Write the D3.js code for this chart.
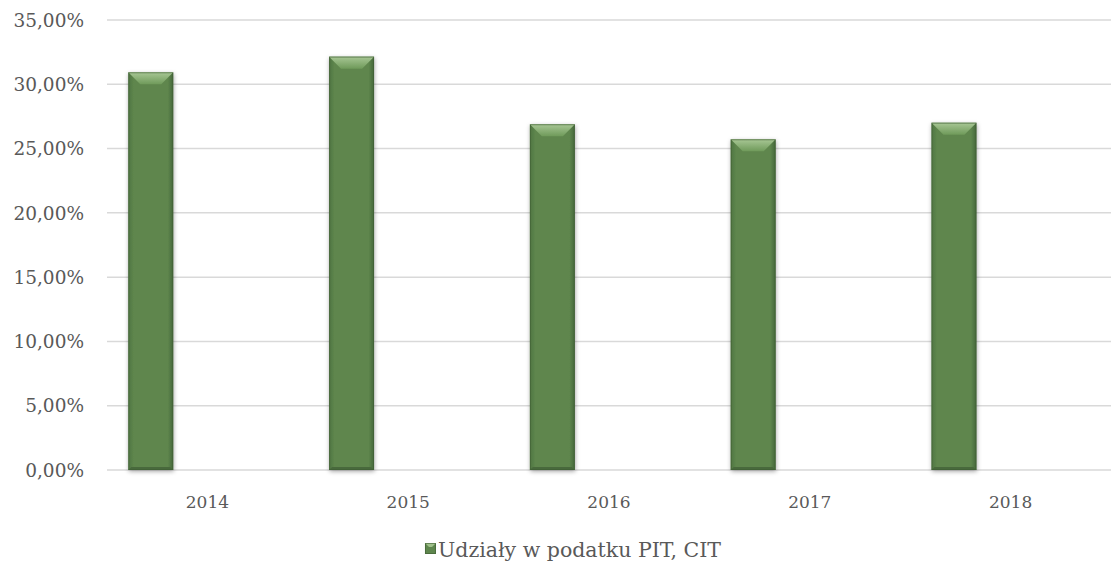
<!DOCTYPE html>
<html>
<head>
<meta charset="utf-8">
<script src="https://cdn.jsdelivr.net/npm/d3@7"></script>
<style>
  body { margin: 0; background: #fff; }
  text { font-family: "DejaVu Serif", "Liberation Serif", serif; fill: #595959; }
</style>
</head>
<body>
<svg width="1111" height="572"></svg>
<script>
var years = ["2014", "2015", "2016", "2017", "2018"];
var shares = [30.93, 32.15, 26.89, 25.72, 27.01];
var yTicks = [0, 5, 10, 15, 20, 25, 30, 35];
var seriesName = "Udziały w podatku PIT, CIT";

var svg = d3.select("svg"),
    width = +svg.attr("width"),
    height = +svg.attr("height");

var margin = {left: 107, right: 0, top: 20, bottom: 102};

var x = d3.scaleBand()
  .domain(years)
  .range([margin.left, width - margin.right]);

var y = d3.scaleLinear()
  .domain([0, 35])
  .range([height - margin.bottom, margin.top]);

// bar sits in the left part of each category slot
var barOffset = x.bandwidth() * 0.106,
    barWidth = x.bandwidth() * 0.224;

var defs = svg.append("defs");

var shadow = defs.append("filter").attr("id", "shadow")
  .attr("x", "-30%").attr("y", "-10%").attr("width", "160%").attr("height", "125%");
shadow.append("feDropShadow")
  .attr("dx", 0.5).attr("dy", 1.5).attr("stdDeviation", 2.2)
  .attr("flood-color", "#000").attr("flood-opacity", 0.35);

var topGrad = defs.append("linearGradient").attr("id", "topGrad")
  .attr("x1", 0).attr("y1", 0).attr("x2", 0).attr("y2", 1);
topGrad.append("stop").attr("offset", "0%").attr("stop-color", "#a8c795");
topGrad.append("stop").attr("offset", "100%").attr("stop-color", "#6f9a5a");

var bodyGrad = defs.append("linearGradient").attr("id", "bodyGrad")
  .attr("x1", 0).attr("y1", 0).attr("x2", 1).attr("y2", 0);
bodyGrad.append("stop").attr("offset", "0%").attr("stop-color", "#4f7541");
bodyGrad.append("stop").attr("offset", "12%").attr("stop-color", "#5e864d");
bodyGrad.append("stop").attr("offset", "88%").attr("stop-color", "#5e864d");
bodyGrad.append("stop").attr("offset", "100%").attr("stop-color", "#44663a");

// gridlines
svg.append("g")
  .selectAll("line")
  .data(yTicks)
  .enter().append("line")
  .attr("x1", margin.left)
  .attr("x2", width - margin.right)
  .attr("y1", function(d) { return y(d); })
  .attr("y2", function(d) { return y(d); })
  .attr("stroke", "#d9d9d9")
  .attr("stroke-width", 1.5);

// y labels
svg.append("g")
  .selectAll("text")
  .data(yTicks)
  .enter().append("text")
  .attr("x", 84)
  .attr("y", function(d) { return y(d); })
  .attr("dy", "0.36em")
  .attr("text-anchor", "end")
  .style("font-size", "18.5px")
  .text(function(d) { return d.toFixed(2).replace(".", ",") + "%"; });

// x labels
svg.append("g")
  .selectAll("text")
  .data(years)
  .enter().append("text")
  .attr("x", function(d) { return x(d) + x.bandwidth() / 2; })
  .attr("y", 508)
  .attr("text-anchor", "middle")
  .style("font-size", "17px")
  .text(function(d) { return d; });

function drawBevelBar(g, bx, by, bw, bh) {
  var bev = Math.min(12, bh / 2);
  g.append("rect")
    .attr("x", bx).attr("y", by).attr("width", bw).attr("height", bh)
    .attr("fill", "url(#bodyGrad)")
    .attr("filter", "url(#shadow)");
  // lighter top bevel
  g.append("path")
    .attr("d", "M" + bx + "," + by + "H" + (bx + bw) + "L" + (bx + bw - bev) + "," + (by + bev) +
      "H" + (bx + bev) + "Z")
    .attr("fill", "url(#topGrad)");
  // darker bottom edge
  g.append("path")
    .attr("d", "M" + bx + "," + (by + bh) + "H" + (bx + bw) + "L" + (bx + bw - 3) + "," + (by + bh - 3) +
      "H" + (bx + 3) + "Z")
    .attr("fill", "#48693c");
  g.append("rect")
    .attr("x", bx + 0.5).attr("y", by + 0.5).attr("width", bw - 1).attr("height", bh - 1)
    .attr("fill", "none")
    .attr("stroke", "#3f5e34")
    .attr("stroke-opacity", 0.6);
}

var bars = svg.append("g");
years.forEach(function(yr, i) {
  var bx = x(yr) + barOffset,
      by = y(shares[i]),
      bh = y(0) - y(shares[i]);
  drawBevelBar(bars.append("g"), bx, by, barWidth, bh);
});

// legend, centred a little right of the middle like the original
var legend = svg.append("g");
var legendText = legend.append("text")
  .attr("y", 557)
  .style("font-size", "20.5px")
  .text(seriesName);
var tw = legendText.node().getComputedTextLength();
var lx = 573 - (tw + 13) / 2;
legendText.attr("x", lx + 13);
var m = legend.append("g");
m.append("rect").attr("x", lx).attr("y", 543).attr("width", 11).attr("height", 11).attr("fill", "#5e864d");
m.append("path")
  .attr("d", "M" + lx + ",543H" + (lx + 11) + "L" + (lx + 7) + ",547H" + (lx + 4) + "Z")
  .attr("fill", "#9fc08a");
m.append("rect").attr("x", lx + 0.5).attr("y", 543.5).attr("width", 10).attr("height", 10)
  .attr("fill", "none").attr("stroke", "#3f5e34").attr("stroke-opacity", 0.6);
</script>
</body>
</html>
